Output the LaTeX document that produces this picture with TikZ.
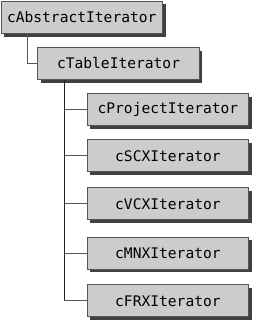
\documentclass[tikz,border=0pt]{standalone}
\usepackage{fontspec}
\setmonofont{DejaVu Sans Mono}
\usetikzlibrary{shadows}
\definecolor{boxfill}{HTML}{CCCCCC}
\definecolor{boxline}{HTML}{555555}
\definecolor{shadowc}{HTML}{404040}
\definecolor{connc}{HTML}{555555}
\definecolor{trunkc}{HTML}{222222}
\begin{document}
\begin{tikzpicture}[x=1pt,y=-1pt,
  cls/.style={rectangle, draw=boxline, line width=1pt, fill=boxfill,
    minimum width=161.5pt, minimum height=32pt, inner sep=0pt, anchor=north west,
    font=\fontsize{14.6}{16}\selectfont\ttfamily, text=black,
    drop shadow={shadow xshift=3pt, shadow yshift=-3pt, fill=shadowc, opacity=1}},
  conn/.style={draw=connc, line width=1pt},
  trunk/.style={draw=trunkc, line width=1.1pt}]
\useasboundingbox (0,0) rectangle (253,322);
\node[cls, minimum height=32.5pt] (b1) at (0.5,0.5) {cAbstractIterator};
\node[cls] (b2) at (37.3,47) {cTableIterator};
\node[cls] (b3) at (86.7,93.3) {cProjectIterator};
\node[cls] (b4) at (86.7,139.3) {cSCXIterator};
\node[cls] (b5) at (86.7,187.3) {cVCXIterator};
\node[cls] (b6) at (86.7,236.5) {cMNXIterator};
\node[cls] (b7) at (86.7,284.3) {cFRXIterator};
\draw[conn] ([xshift=27.2pt]b1.south west) |- (b2.west);
\coordinate (t) at ([xshift=26.8pt]b2.south west);
\foreach \n in {b3,b4,b5,b6,b7} { \draw[conn] (t |- \n.west) -- (\n.west); }
\draw[trunk] (t) -- ([yshift=0.5pt]t |- b7.west);
\end{tikzpicture}
\end{document}
